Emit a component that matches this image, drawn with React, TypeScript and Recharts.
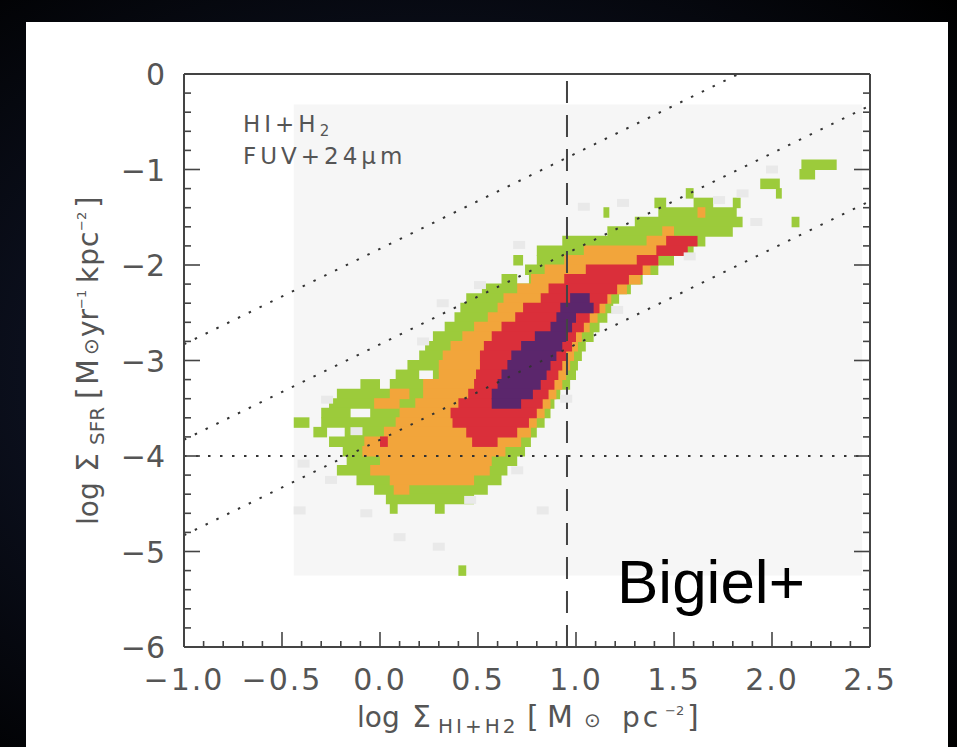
import React from 'react'
import { ComposedChart, XAxis, YAxis, ReferenceArea, ReferenceLine, Scatter } from 'recharts'

const W = 957
const H = 747

const AXIS = '#444'
const TEXT = '#555'
const GREEN = '#9ccb3b'
const ORANGE = '#f2a53b'
const RED = '#da2f3a'
const PURPLE = '#5b266c'
const FONT = '"DejaVu Sans", sans-serif'

const xMajorTicks = [-1, -0.5, 0, 0.5, 1, 1.5, 2, 2.5]
const xTickLabels = ['−1.0', '−0.5', '0.0', '0.5', '1.0', '1.5', '2.0', '2.5']
const xMinorTicks = [
  -0.9, -0.8, -0.7, -0.6, -0.4, -0.3, -0.2, -0.1, 0.1, 0.2, 0.3, 0.4, 0.6, 0.7, 0.8, 0.9,
  1.1, 1.2, 1.3, 1.4, 1.6, 1.7, 1.8, 1.9, 2.1, 2.2, 2.3, 2.4,
]
const yMajorTicks = [0, -1, -2, -3, -4, -5, -6]
const yTickLabels = ['0', '−1', '−2', '−3', '−4', '−5', '−6']
const yMinorTicks = [
  -0.2, -0.4, -0.6, -0.8, -1.2, -1.4, -1.6, -1.8, -2.2, -2.4, -2.6, -2.8, -3.2, -3.4, -3.6, -3.8,
  -4.2, -4.4, -4.6, -4.8, -5.2, -5.4, -5.6, -5.8,
]

// grey frame of the binned data
const dataBox = { x1: -0.44, x2: 2.46, y1: -5.25, y2: -0.32 }

// reference lines
const thresholdY = -4
const thresholdX = 0.954
const efficiencyLines = [
  [{ x: -1, y: -2.83 }, { x: 1.83, y: 0 }],
  [{ x: -1, y: -3.83 }, { x: 2.5, y: -0.33 }],
  [{ x: -1, y: -4.83 }, { x: 2.5, y: -1.33 }],
]

// density cells per row: [log Σ_SFR, x from, x to]
const greenCells: [number, number, number][] = [
  [-0.95, 2.15, 2.33],
  [-1.05, 2.14, 2.22],
  [-1.15, 1.94, 2.04],
  [-1.25, 1.56, 1.6], [-1.25, 2.02, 2.05],
  [-1.35, 1.4, 1.46], [-1.35, 1.6, 1.7], [-1.35, 1.8, 1.84],
  [-1.45, 1.14, 1.17], [-1.45, 1.42, 1.82],
  [-1.55, 1.3, 1.85], [-1.55, 2.1, 2.14],
  [-1.65, 1.16, 1.8],
  [-1.75, 0.93, 1.66],
  [-1.85, 0.8, 1.6],
  [-1.95, 0.68, 0.73], [-1.95, 0.8, 1.5],
  [-2.05, 0.74, 1.42],
  [-2.15, 0.62, 0.7], [-2.15, 0.76, 1.34],
  [-2.25, 0.52, 1.28],
  [-2.35, 0.44, 1.22],
  [-2.45, 0.41, 1.19],
  [-2.55, 0.38, 1.16],
  [-2.65, 0.33, 1.12],
  [-2.75, 0.27, 1.09],
  [-2.85, 0.23, 1.05],
  [-2.95, 0.2, 1.03],
  [-3.05, 0.14, 1.01],
  [-3.15, 0.08, 0.2], [-3.15, 0.27, 1.0],
  [-3.25, -0.1, 0.0], [-3.25, 0.05, 0.97],
  [-3.35, -0.22, 0.92],
  [-3.45, -0.26, 0.89],
  [-3.55, -0.3, -0.15], [-3.55, -0.05, 0.87],
  [-3.65, -0.44, -0.36], [-3.65, -0.3, 0.84],
  [-3.75, -0.34, -0.27], [-3.75, -0.18, 0.8],
  [-3.85, -0.26, 0.77],
  [-3.95, -0.19, 0.74],
  [-4.05, -0.17, 0.7],
  [-4.15, -0.22, 0.65],
  [-4.25, -0.12, 0.62],
  [-4.35, -0.03, 0.55],
  [-4.45, 0.03, 0.48],
  [-4.55, 0.05, 0.09], [-4.55, 0.28, 0.33],
  [-5.2, 0.4, 0.44],
]

const orangeCells: [number, number, number][] = [
  [-1.45, 1.62, 1.66],
  [-1.65, 1.44, 1.5],
  [-1.75, 1.36, 1.58],
  [-1.85, 1.04, 1.55],
  [-1.95, 0.94, 1.42],
  [-2.05, 0.84, 1.38],
  [-2.15, 0.77, 1.33],
  [-2.25, 0.7, 1.26],
  [-2.35, 0.63, 1.18],
  [-2.45, 0.6, 1.15],
  [-2.55, 0.55, 1.11],
  [-2.65, 0.48, 1.07],
  [-2.75, 0.42, 1.03],
  [-2.85, 0.36, 1.01],
  [-2.95, 0.32, 0.99],
  [-3.05, 0.3, 0.97],
  [-3.15, 0.3, 0.95],
  [-3.25, 0.22, 0.93],
  [-3.35, 0.05, 0.15], [-3.35, 0.22, 0.9],
  [-3.45, -0.03, 0.1], [-3.45, 0.18, 0.87],
  [-3.55, 0.1, 0.84],
  [-3.65, 0.08, 0.8],
  [-3.75, 0.02, 0.77],
  [-3.85, -0.08, 0.72],
  [-3.95, -0.09, 0.64],
  [-4.05, 0.0, 0.57],
  [-4.15, -0.05, 0.56],
  [-4.25, 0.05, 0.48],
  [-4.35, 0.07, 0.15],
]

const redCells: [number, number, number][] = [
  [-1.75, 1.46, 1.62],
  [-1.85, 1.41, 1.57],
  [-1.95, 1.31, 1.42],
  [-2.05, 1.05, 1.34],
  [-2.15, 0.94, 1.27],
  [-2.25, 0.86, 1.21],
  [-2.35, 0.82, 1.16],
  [-2.45, 0.73, 1.12],
  [-2.55, 0.69, 1.07],
  [-2.65, 0.62, 1.04],
  [-2.75, 0.57, 1.0],
  [-2.85, 0.53, 0.98],
  [-2.95, 0.51, 0.95],
  [-3.05, 0.51, 0.93],
  [-3.15, 0.49, 0.91],
  [-3.25, 0.48, 0.89],
  [-3.35, 0.45, 0.86],
  [-3.45, 0.4, 0.83],
  [-3.55, 0.36, 0.8],
  [-3.65, 0.37, 0.76],
  [-3.75, 0.44, 0.7],
  [-3.85, 0.0, 0.04], [-3.85, 0.47, 0.6],
]

const purpleCells: [number, number, number][] = [
  [-2.35, 0.97, 1.07],
  [-2.45, 0.92, 1.09],
  [-2.55, 0.9, 1.0],
  [-2.65, 0.87, 0.98],
  [-2.75, 0.79, 0.95],
  [-2.85, 0.72, 0.93],
  [-2.95, 0.67, 0.9],
  [-3.05, 0.65, 0.87],
  [-3.15, 0.62, 0.85],
  [-3.25, 0.6, 0.82],
  [-3.35, 0.57, 0.78],
  [-3.45, 0.57, 0.72],
]

// faint sparse bins around the ridge
const greySpeckles = [
  { x: 0.71, y: -1.79 }, { x: 0.51, y: -2.21 }, { x: 0.32, y: -2.4 }, { x: 0.22, y: -2.8 },
  { x: 1.24, y: -1.35 }, { x: 1.73, y: -1.32 }, { x: 1.92, y: -1.55 }, { x: 1.58, y: -1.91 },
  { x: 0.95, y: -3.4 }, { x: 0.83, y: -4.57 }, { x: 0.46, y: -4.46 }, { x: -0.07, y: -4.6 },
  { x: -0.41, y: -4.57 }, { x: -0.27, y: -3.41 }, { x: -0.12, y: -3.74 }, { x: 1.21, y: -2.47 },
  { x: 1.04, y: -1.39 }, { x: -0.25, y: -4.25 }, { x: 0.7, y: -4.15 }, { x: -0.39, y: -4.08 },
  { x: 2.0, y: -1.0 }, { x: 1.85, y: -1.25 }, { x: 0.1, y: -4.85 }, { x: 0.3, y: -4.95 },
]

const CELL_HALF = 0.055

const isMajor = (v: number, list: number[]) => list.findIndex((t) => Math.abs(t - v) < 1e-6)

function BottomTick({ x, y, payload }: any) {
  const i = isMajor(payload.value, xMajorTicks)
  return (
    <g>
      <line x1={x} x2={x} y1={y} y2={y - (i >= 0 ? 15 : 6)} stroke={AXIS} strokeWidth={1.6} />
      {i >= 0 && (
        <text x={x} y={y + 43} textAnchor="middle" fontSize={30} letterSpacing={2} fill={TEXT} fontFamily={FONT}>
          {xTickLabels[i]}
        </text>
      )}
    </g>
  )
}

function TopTick({ x, y, payload }: any) {
  const i = isMajor(payload.value, xMajorTicks)
  return <line x1={x} x2={x} y1={y} y2={y + (i >= 0 ? 15 : 6)} stroke={AXIS} strokeWidth={1.6} />
}

function LeftTick({ x, y, payload }: any) {
  const i = isMajor(payload.value, yMajorTicks)
  return (
    <g>
      <line x1={x} x2={x + (i >= 0 ? 16 : 7)} y1={y} y2={y} stroke={AXIS} strokeWidth={1.6} />
      {i >= 0 && (
        <text x={x - 19} y={y + 11} textAnchor="end" fontSize={30} fill={TEXT} fontFamily={FONT}>
          {yTickLabels[i]}
        </text>
      )}
    </g>
  )
}

function RightTick({ x, y, payload }: any) {
  const i = isMajor(payload.value, yMajorTicks)
  return <line x1={x} x2={x - (i >= 0 ? 16 : 7)} y1={y} y2={y} stroke={AXIS} strokeWidth={1.6} />
}

const SpeckleShape = ({ cx, cy }: any) => <rect x={cx - 6} y={cy - 4} width={12} height={8} fill="#e9e9e9" />

const levels = [
  { name: 'green', cells: greenCells, color: GREEN },
  { name: 'orange', cells: orangeCells, color: ORANGE },
  { name: 'red', cells: redCells, color: RED },
  { name: 'purple', cells: purpleCells, color: PURPLE },
]

export default function App() {
  const xTicks = [...xMajorTicks, ...xMinorTicks].sort((a, b) => a - b)
  const yTicks = [...yMajorTicks, ...yMinorTicks].sort((a, b) => a - b)
  const axisLine = { stroke: AXIS, strokeWidth: 2 }

  return (
    <div
      style={{
        position: 'absolute',
        left: 0,
        top: 0,
        width: W,
        height: H,
        overflow: 'hidden',
        background: 'radial-gradient(ellipse at 45% 50%, #1d2744 0%, #0b0f1c 55%, #000 100%)',
      }}
    >
      <div style={{ position: 'absolute', left: 26, top: 22, width: 922, height: H - 22, background: '#fff' }} />
      <div style={{ position: 'absolute', left: 0, top: 0 }}>
        <ComposedChart width={W} height={H} margin={{ top: 73, right: 86, bottom: 40, left: 124 }}>
          <XAxis
            type="number"
            dataKey="x"
            domain={[-1, 2.5]}
            ticks={xTicks}
            interval={0}
            allowDataOverflow
            height={60}
            tickSize={0}
            tickMargin={0}
            tickLine={false}
            axisLine={axisLine}
            tick={<BottomTick />}
          />
          <XAxis
            xAxisId="top"
            orientation="top"
            type="number"
            domain={[-1, 2.5]}
            ticks={xTicks}
            interval={0}
            allowDataOverflow
            height={1}
            tickSize={0}
            tickMargin={0}
            tickLine={false}
            axisLine={axisLine}
            tick={<TopTick />}
          />
          <YAxis
            type="number"
            dataKey="y"
            domain={[-6, 0]}
            ticks={yTicks}
            interval={0}
            allowDataOverflow
            width={60}
            tickSize={0}
            tickMargin={0}
            tickLine={false}
            axisLine={axisLine}
            tick={<LeftTick />}
          />
          <YAxis
            yAxisId="right"
            orientation="right"
            type="number"
            domain={[-6, 0]}
            ticks={yTicks}
            interval={0}
            allowDataOverflow
            width={1}
            tickSize={0}
            tickMargin={0}
            tickLine={false}
            axisLine={axisLine}
            tick={<RightTick />}
          />

          <ReferenceArea
            x1={dataBox.x1}
            x2={dataBox.x2}
            y1={dataBox.y1}
            y2={dataBox.y2}
            fill="#f6f6f6"
            fillOpacity={1}
            stroke="none"
          />
          <Scatter data={greySpeckles} shape={SpeckleShape} isAnimationActive={false} />
          {levels.map((lv) =>
            lv.cells.map(([y, x1, x2], i) => (
              <ReferenceArea
                key={`${lv.name}-${i}`}
                x1={x1}
                x2={x2}
                y1={y - CELL_HALF}
                y2={y + CELL_HALF}
                fill={lv.color}
                fillOpacity={1}
                stroke="none"
              />
            ))
          )}

          {efficiencyLines.map((seg, i) => (
            <ReferenceLine
              key={`eff-${i}`}
              segment={seg}
              stroke="#333"
              strokeWidth={2}
              strokeDasharray="2.5 9.5"
            />
          ))}
          <ReferenceLine y={thresholdY} stroke="#333" strokeWidth={2} strokeDasharray="2.5 9.5" />
          <ReferenceLine x={thresholdX} stroke="#444" strokeWidth={2} strokeDasharray="22 12" />
        </ComposedChart>
      </div>

      <svg
        width={W}
        height={H}
        style={{ position: 'absolute', left: 0, top: 0, pointerEvents: 'none' }}
        fontFamily={FONT}
        fill={TEXT}
      >
        <text y={132} fontSize={23} letterSpacing={4}>
          <tspan x={243}>HI+H</tspan>
          <tspan fontSize={15} dy={4}>2</tspan>
        </text>
        <text x={243} y={164} fontSize={23} letterSpacing={4}>
          FUV+24μm
        </text>

        <text y={727} fontSize={28}>
          <tspan x={357}>log</tspan>
          <tspan x={412} fontSize={30}>Σ</tspan>
          <tspan x={438} dy={6} fontSize={20} letterSpacing={3}>HI+H2</tspan>
          <tspan x={527} dy={-6} fontSize={30}>[</tspan>
          <tspan x={547} fontSize={30}>M</tspan>
          <tspan x={584} fontSize={20}>⊙</tspan>
          <tspan x={622} letterSpacing={3}>pc</tspan>
          <tspan x={665} dy={-12} fontSize={13}>−2</tspan>
          <tspan x={687} dy={12} fontSize={30}>]</tspan>
        </text>

        <text transform="translate(98 361) rotate(-90)" fontSize={28}>
          <tspan x={-164}>log</tspan>
          <tspan x={-111} fontSize={30}>Σ</tspan>
          <tspan x={-84} dy={6} fontSize={20}>SFR</tspan>
          <tspan x={-38} dy={-6} fontSize={30}>[</tspan>
          <tspan x={-24} fontSize={30}>M</tspan>
          <tspan x={6} fontSize={20}>⊙</tspan>
          <tspan x={24}>yr</tspan>
          <tspan x={52} dy={-12} fontSize={13}>−1</tspan>
          <tspan x={78} dy={12} letterSpacing={1}>kpc</tspan>
          <tspan x={130} dy={-12} fontSize={13}>−2</tspan>
          <tspan x={153} dy={12} fontSize={30}>]</tspan>
        </text>

        <text x={617} y={603} fontSize={62} fill="#000" fontFamily='"Liberation Sans", Arial, sans-serif'>
          Bigiel+
        </text>
      </svg>
    </div>
  )
}
